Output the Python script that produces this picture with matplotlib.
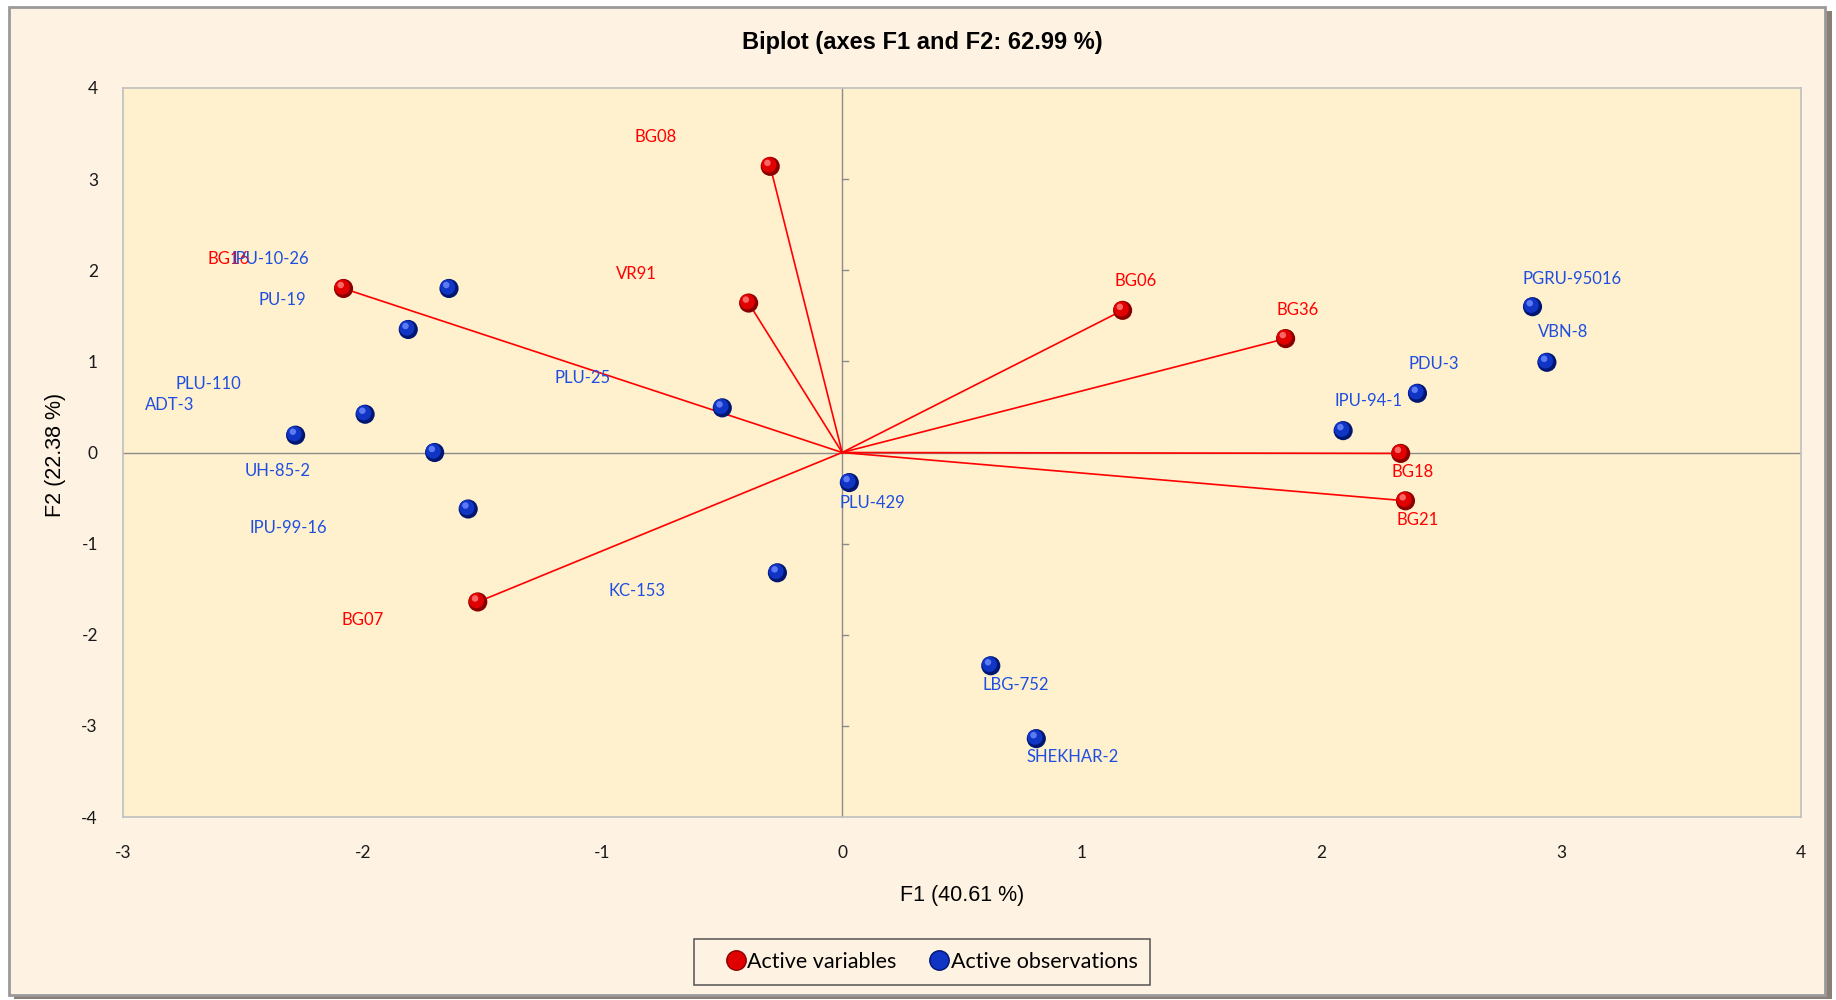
import matplotlib
matplotlib.use("Agg")
import matplotlib.pyplot as plt
from matplotlib.patches import Rectangle
from matplotlib.lines import Line2D
import matplotlib.transforms as mtransforms

plt.rcParams["axes.unicode_minus"] = False

# ---- data ----
var_names = ["BG08", "BG16", "VR91", "BG06", "BG36", "BG18", "BG21", "BG07"]
var_f1 = [-0.30, -2.08, -0.39, 1.17, 1.85, 2.33, 2.35, -1.52]
var_f2 = [3.14, 1.80, 1.64, 1.56, 1.25, -0.01, -0.53, -1.64]

obs_names = ["IPU-10-26", "PU-19", "PLU-110", "ADT-3", "UH-85-2", "IPU-99-16",
             "PLU-25", "KC-153", "PLU-429", "LBG-752", "SHEKHAR-2", "IPU-94-1",
             "PDU-3", "PGRU-95016", "VBN-8"]
obs_f1 = [-1.64, -1.81, -1.99, -2.28, -1.70, -1.56, -0.50, -0.27, 0.03, 0.62,
          0.81, 2.09, 2.40, 2.88, 2.94]
obs_f2 = [1.80, 1.35, 0.42, 0.19, 0.00, -0.62, 0.49, -1.32, -0.33, -2.34,
          -3.14, 0.24, 0.65, 1.60, 0.99]

x_ticks = [-3, -2, -1, 0, 1, 2, 3, 4]
y_ticks = [-4, -3, -2, -1, 0, 1, 2, 3, 4]

title = "Biplot (axes F1 and F2: 62.99 %)"
xlabel = "F1 (40.61 %)"
ylabel = "F2 (22.38 %)"

# label offsets in pixels (layout, not data)
var_off = [(-115, 29), (-115, 29), (-112, 29), (13, 29), (12, 29), (12, -19), (12, -19), (-115, -18)]
obs_off = [(-179, 29), (-126, 29), (-157, 30), (-126, 30), (-157, -19), (-180, -19),
           (-140, 30), (-140, -18), (23, -20), (25, -19), (36, -18), (25, 30),
           (16, 29), (40, 28), (16, 30)]

LABEL_FONT = ["Lato", "DejaVu Sans"]
ARIAL = ["Liberation Sans", "DejaVu Sans"]

fig = plt.figure(figsize=(18.36, 10), dpi=100)
fig.patch.set_facecolor("white")

W, H = 1836.0, 1000.0
# outer frame shadow + frame
fig.patches.append(Rectangle((14 / W, 1 / H), 1818 / W, 988 / H, transform=fig.transFigure,
                             facecolor="#8a7f76", edgecolor="none", zorder=-10))
fig.patches.append(Rectangle((9 / W, 5 / H), 1816 / W, 988 / H, transform=fig.transFigure,
                             facecolor="#FEF2E2", edgecolor="#9a9a9a", linewidth=2.0, zorder=-9))

ax = fig.add_axes([123 / W, 1 - 817 / H, (1801 - 123) / W, (817 - 88) / H])
ax.set_zorder(1)
ax.set_facecolor("#FFF0CE")
ax.set_xlim(-3, 4)
ax.set_ylim(-4, 4)
for s in ax.spines.values():
    s.set_color("#BFBFBF")
    s.set_linewidth(1.2)
ax.set_xticks(x_ticks)
ax.set_yticks(y_ticks)
ax.tick_params(length=0, pad=20, labelsize=12.5)
ax.tick_params(axis="y", pad=18)
for lab in ax.get_xticklabels() + ax.get_yticklabels():
    lab.set_family(LABEL_FONT)
    lab.set_color("#1a1a1a")

# zero lines
ax.axhline(0, color="#8c8c8c", lw=1.0, zorder=1)
ax.axvline(0, color="#8c8c8c", lw=1.0, zorder=1)
for yt in y_ticks:
    if yt not in (-4, 0, 4):
        ax.plot([0, 0.025], [yt, yt], color="#8c8c8c", lw=1.0, zorder=1)

# vectors
for xv, yv in zip(var_f1, var_f2):
    ax.plot([0, xv], [0, yv], color="#FF0000", lw=1.2, zorder=2)


def spheres(xs, ys, dark, mid, light, z):
    ax.scatter(xs, ys, s=190, color=dark, edgecolors="none", zorder=z)
    tr1 = mtransforms.offset_copy(ax.transData, fig=fig, x=-1.0, y=1.0, units="points")
    ax.scatter(xs, ys, s=120, color=mid, edgecolors="none", zorder=z + 0.1, transform=tr1)
    tr2 = mtransforms.offset_copy(ax.transData, fig=fig, x=-2.0, y=2.5, units="points")
    ax.scatter(xs, ys, s=22, color=light, edgecolors="none", zorder=z + 0.2, transform=tr2, alpha=0.8)


spheres(obs_f1, obs_f2, "#001670", "#1034C4", "#6f8cff", 4)
spheres(var_f1, var_f2, "#8a0000", "#E00000", "#ff8080", 5)

for n, xv, yv, off in zip(var_names, var_f1, var_f2, var_off):
    ax.annotate(n, (xv, yv), xytext=off, textcoords="offset pixels", ha="center", va="center",
                color="#FF0000", fontsize=12, family=LABEL_FONT, zorder=6)
for n, xv, yv, off in zip(obs_names, obs_f1, obs_f2, obs_off):
    ax.annotate(n, (xv, yv), xytext=off, textcoords="offset pixels", ha="center", va="center",
                color="#1F4FE0", fontsize=12, family=LABEL_FONT, zorder=6)

fig.text(922 / W, 1 - 42 / H, title, ha="center", va="center", fontsize=17,
         fontweight="bold", family=ARIAL)
fig.text(962 / W, 1 - 896 / H, xlabel, ha="center", va="center", fontsize=15.5, family=ARIAL)
fig.text(55 / W, 1 - 455 / H, ylabel, ha="center", va="center", fontsize=15.5, family=ARIAL,
         rotation=90)

handles = [Line2D([], [], marker="o", linestyle="none", markersize=14, markerfacecolor="#E00000",
                  markeredgecolor="#8a0000", label="Active variables"),
           Line2D([], [], marker="o", linestyle="none", markersize=14, markerfacecolor="#1034C4",
                  markeredgecolor="#001670", label="Active observations")]
leg = fig.legend(handles=handles, loc="center", bbox_to_anchor=(922 / W, 1 - 962 / H), ncol=2,
                 frameon=True, fancybox=False, handletextpad=-0.8,
                 columnspacing=0.6, borderpad=0.6, handlelength=2.7, borderaxespad=0,
                 prop={"family": LABEL_FONT, "size": 15.5})
leg.get_frame().set_edgecolor("#3a3a3a")
leg.get_frame().set_facecolor("#FEF2E2")
leg.get_frame().set_linewidth(1.2)

fig.savefig("out.png", dpi=100, facecolor=fig.get_facecolor())
